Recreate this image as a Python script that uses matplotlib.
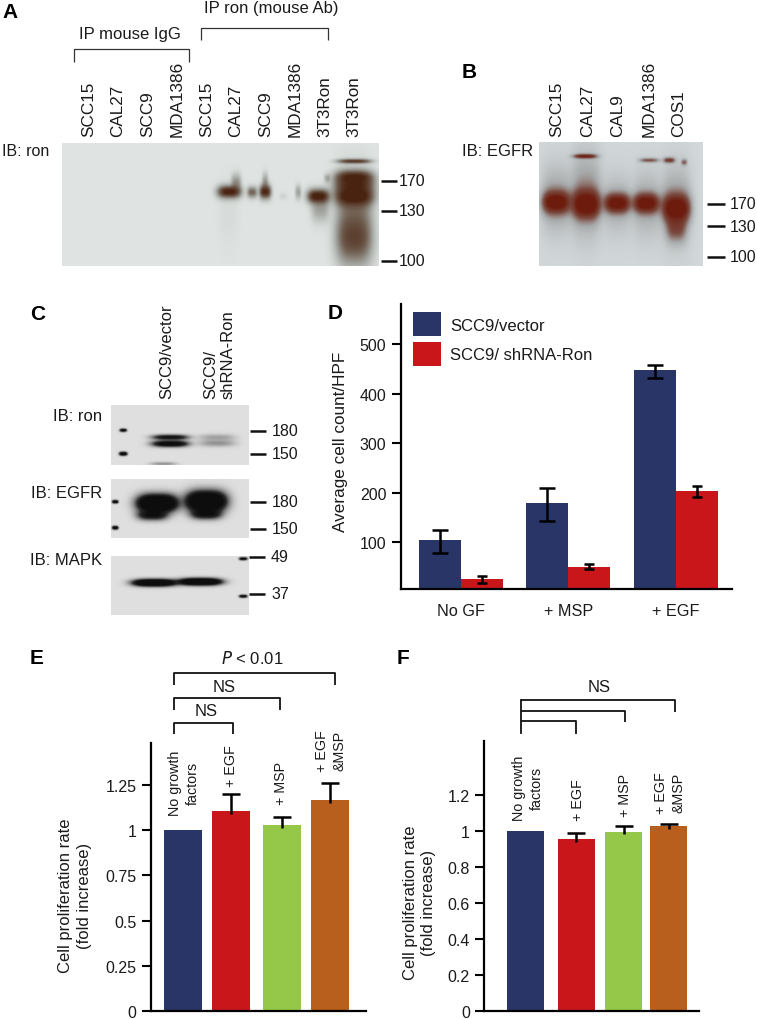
import numpy as np
import matplotlib
matplotlib.use('Agg')
import matplotlib.pyplot as plt
from matplotlib.colors import LinearSegmentedColormap

plt.rcParams['font.family'] = ['Liberation Sans', 'DejaVu Sans']

W, H = 757, 1020

# panel D
D_GROUPS = ['No GF', '+ MSP', '+ EGF']
D_VECTOR = [103, 178, 448]
D_VECTOR_LOW = [77, 143, 432]
D_VECTOR_HIGH = [125, 209, 458]
D_SHRNA = [24, 50, 204]
D_SHRNA_LOW = [16, 45, 192]
D_SHRNA_HIGH = [32, 56, 213]
D_TICKS = [100, 200, 300, 400, 500]

# panels E, F
E_VALUES = [1.0, 1.105, 1.028, 1.166]
E_TOPS = [1.0, 1.2, 1.072, 1.264]
E_TICKS = [0, 0.25, 0.5, 0.75, 1, 1.25]
E_TICKLABELS = ['0', '0.25', '0.5', '0.75', '1', '1.25']
F_VALUES = [1.0, 0.954, 0.994, 1.024]
F_TOPS = [1.0, 0.99, 1.027, 1.039]
F_TICKS = [0, 0.2, 0.4, 0.6, 0.8, 1, 1.2]
F_TICKLABELS = ['0', '0.2', '0.4', '0.6', '0.8', '1', '1.2']
BAR_COLORS = ['#2a3567', '#c8161b', '#95c748', '#b85f1e']

# blots: (x centre, y centre, half width, y sigma, strength), in page pixels
A_BANDS = [
    (229, 192.5, 12, 4.5, 0.9), (236, 183, 5, 6, 0.35), (228, 215, 10, 22, 0.04),
    (252, 193, 5, 4, 0.55), (265, 192.5, 6, 5, 0.85), (265, 182, 3, 6, 0.3),
    (298, 193, 3, 5, 0.3), (283, 197, 4, 2.5, 0.08),
    (318, 197, 11, 5, 0.95), (320, 210, 9, 9, 0.3), (327, 179, 3, 3, 0.25),
    (354, 197, 19, 7, 1.0), (354, 178, 19, 5, 0.85), (354, 162, 17, 1.6, 0.75),
    (354, 186, 19, 6, 0.7), (354, 240, 18, 18, 0.6), (354, 215, 18, 28, 0.4),
]
B_BANDS = [
    (556, 203, 14, 8, 0.92), (586, 205, 14, 10, 1.0), (617, 204, 13, 7, 0.9),
    (646, 204, 13, 7, 0.9), (676, 209, 14, 10, 0.95), (676, 230, 10, 9, 0.45),
    (585, 157, 12, 1.6, 0.75), (649, 161, 10, 1.6, 0.5),
    (669, 161, 6, 2, 0.6), (684, 163, 3, 2.2, 0.45),
    (556, 200, 15, 24, 0.3), (586, 195, 15, 30, 0.35), (617, 205, 14, 22, 0.22),
    (646, 205, 14, 24, 0.25), (676, 205, 15, 28, 0.3),
]
C1_BANDS = [
    (170, 438, 18, 1.8, 0.65), (170, 444.5, 18, 2.2, 0.8),
    (217, 438, 18, 2.2, 0.16), (217, 444, 18, 2.4, 0.2),
    (163, 464.5, 13, 1.2, 0.2),
    (123, 431, 3.5, 1.1, 0.8), (123, 454.5, 4, 1.3, 0.9),
]
C2_BANDS = [
    (157, 504, 20, 6, 1.0), (206, 502, 20, 7, 1.0),
    (152, 516, 15, 3.5, 0.5), (206, 515, 15, 3.5, 0.5),
    (115, 502.5, 3, 1.1, 0.8), (115, 528.5, 3, 1.2, 0.8),
]
C3_BANDS = [
    (154, 583.5, 21, 2.4, 1.0), (200, 582.5, 21, 2.4, 1.0),
    (243, 559.5, 4, 1, 0.7), (243, 597, 4, 1, 0.7),
]

BROWN = LinearSegmentedColormap.from_list(
    'brown', ['#dfe4e2', '#a3a5a0', '#6d5a4c', '#4a2210'])
RED = LinearSegmentedColormap.from_list(
    'red', ['#d2d8da', '#a7a9aa', '#7a4a40', '#6d1c0e'])
GREY = LinearSegmentedColormap.from_list(
    'grey', ['#dfdfdf', '#8a8a8a', '#2a2a2a', '#0d0d0d'])

fig = plt.figure(figsize=(W / 100, H / 100), dpi=100)


def pixel_axes(x0, y0, x1, y1, **kw):
    return fig.add_axes([x0 / W, 1 - y1 / H, (x1 - x0) / W, (y1 - y0) / H], **kw)


page = pixel_axes(0, 0, W, H)
page.set_xlim(0, W)
page.set_ylim(H, 0)
page.axis('off')


def blot(x0, y0, x1, y1, bands, cmap, gain=1.0):
    xs, ys = np.meshgrid(np.arange(x0, x1, 0.5), np.arange(y0, y1, 0.5))
    keep = np.ones_like(xs)
    for cx, cy, hw, sy, amp in bands:
        keep *= 1 - amp * np.exp(-np.abs((xs - cx) / hw) ** 3 - ((ys - cy) / sy) ** 2 / 2)
    ax = pixel_axes(x0, y0, x1, y1)
    ax.imshow(np.clip((1 - keep) * gain, 0, 1), cmap=cmap, vmin=0, vmax=1, aspect='auto',
              extent=(x0, x1, y1, y0), interpolation='bilinear')
    ax.axis('off')


def label(x, y, s, **kw):
    kw.setdefault('fontsize', 11.5)
    kw.setdefault('va', 'center')
    kw.setdefault('color', '#1a1a1a')
    page.text(x, y, s, **kw)


def rotated(x, y, s, **kw):
    kw.setdefault('ha', 'center')
    kw.setdefault('va', 'bottom')
    label(x, y, s, rotation=90, **kw)


def bracket(x0, x1, top, drop0, drop1, lw=1.3, color='#111111'):
    page.plot([x0, x0, x1, x1], [drop0, top, top, drop1], color=color, lw=lw,
              solid_joinstyle='round', solid_capstyle='butt')


def marks(x0, x1, items, tx, lw=1.8):
    for y, s in items:
        page.plot([x0, x1], [y, y], color='#111111', lw=lw, solid_capstyle='butt')
        label(tx, y, s)


for x, y, s in [(2, 13, 'A'), (462, 72, 'B'), (30, 315, 'C'), (328, 314, 'D'),
                (30, 659, 'E'), (397, 659, 'F')]:
    label(x, y, s, fontsize=15, fontweight='bold', color='black')

# A
blot(62, 144, 379, 267, A_BANDS, BROWN, gain=1.15)
A_LANES = ['SCC15', 'CAL27', 'SCC9', 'MDA1386', 'SCC15', 'CAL27', 'SCC9', 'MDA1386', '3T3Ron', '3T3Ron']
A_X = [89, 118, 148, 177, 207, 236, 266, 295, 325, 354]
for x, s in zip(A_X, A_LANES):
    rotated(x, 137, s, fontsize=12.3)
bracket(73.5, 189, 50, 63, 63, lw=0.9, color='#333333')
bracket(200.5, 327.5, 28.5, 41, 41, lw=0.9, color='#333333')
label(130, 34, 'IP mouse IgG', ha='center', fontsize=12)
label(271, 9, 'IP ron (mouse Ab)', ha='center', fontsize=12)
label(2, 151, 'IB: ron')
marks(381, 396.5, [(181.5, '170'), (212, '130'), (261.5, '100')], 399)

# B
blot(539, 143, 703, 267, B_BANDS, RED, gain=1.25)
for x, s in zip([557, 588, 618, 649, 679], ['SCC15', 'CAL27', 'CAL9', 'MDA1386', 'COS1']):
    rotated(x, 137, s, fontsize=12.3)
label(462.5, 151, 'IB: EGFR', fontsize=12)
marks(706.5, 725, [(204.5, '170'), (227, '130'), (257.5, '100')], 730)

# C
blot(111, 406, 249, 466, C1_BANDS, GREY, gain=1.5)
blot(111, 480, 249, 539, C2_BANDS, GREY, gain=1.8)
blot(111, 557, 249, 616, C3_BANDS, GREY, gain=1.8)
rotated(167, 399.5, 'SCC9/vector', fontsize=12)
rotated(219, 399.5, 'SCC9/\nshRNA-Ron', multialignment='left', fontsize=12, linespacing=1.2)
label(102, 417, 'IB: ron', ha='right', fontsize=12)
label(102, 493.5, 'IB: EGFR', ha='right', fontsize=12)
label(102, 560.5, 'IB: MAPK', ha='right', fontsize=12)
marks(250, 265.5, [(431.5, '180'), (454.5, '150'), (503, '180'), (529.5, '150')], 272)
marks(249, 264.5, [(557.5, '49'), (595, '37')], 271)


def style_axis(ax):
    ax.patch.set_alpha(0)
    for side in ['top', 'right']:
        ax.spines[side].set_visible(False)
    for side in ['left', 'bottom']:
        ax.spines[side].set_linewidth(1.6)
    ax.tick_params(axis='y', length=6.3, width=1.5, pad=4, labelsize=11.5, labelcolor='#1a1a1a')


# D
ax = pixel_axes(400.7, 305, 732, 590)
style_axis(ax)
xpos = np.arange(len(D_GROUPS))
width = 0.39
vector = np.array(D_VECTOR)
shrna = np.array(D_SHRNA)
ax.bar(xpos - width / 2, vector, width, color=BAR_COLORS[0], label='SCC9/vector')
ax.bar(xpos + width / 2, shrna, width, color=BAR_COLORS[1], label='SCC9/ shRNA-Ron')
ax.errorbar(xpos - width / 2, vector,
            yerr=[vector - np.array(D_VECTOR_LOW), np.array(D_VECTOR_HIGH) - vector],
            fmt='none', ecolor='black', elinewidth=1.8, capsize=5.5, capthick=1.8)
ax.errorbar(xpos + width / 2, shrna,
            yerr=[shrna - np.array(D_SHRNA_LOW), np.array(D_SHRNA_HIGH) - shrna],
            fmt='none', ecolor='black', elinewidth=1.8, capsize=3.5, capthick=1.8)
ax.set_xlim(-0.558, 2.524)
ax.set_ylim(4.7, 582)
ax.set_xticks(xpos, D_GROUPS, fontsize=11.7, color='#1a1a1a')
ax.tick_params(axis='x', length=0, pad=10)
ax.set_yticks(D_TICKS)
ax.set_ylabel('Average cell count/HPF', fontsize=12.3, color='#1a1a1a')
ax.yaxis.set_label_coords(348, 441.5, transform=page.transData)
ax.legend(loc='upper left', bbox_to_anchor=(413.3, 313.3), bbox_transform=page.transData,
          frameon=False, fontsize=12, borderpad=0, borderaxespad=0, handlelength=1.65,
          handleheight=1.85, labelspacing=0.32, handletextpad=0.55, labelcolor='#1a1a1a')


def proliferation(box, values, tops, ticks, ticklabels, pos, bar_w, xlim, ytop, label_xy):
    ax = pixel_axes(*box)
    style_axis(ax)
    ax.bar(pos, values, bar_w, color=BAR_COLORS)
    tops = np.array(tops)
    vals = np.array(values)
    for p, v, t in zip(pos[1:], vals[1:], tops[1:]):
        _, caps, _ = ax.errorbar([p], [v], yerr=[[0.015], [t - v]], fmt='none', ecolor='black',
                                 elinewidth=1.8, capsize=6.3, capthick=1.8)
        caps[0].set_visible(False)
    ax.set_xlim(*xlim)
    ax.set_ylim(0, ytop)
    ax.set_xticks([])
    ax.set_yticks(ticks, ticklabels)
    ax.set_ylabel('Cell proliferation rate\n(fold increase)', fontsize=12, color='#1a1a1a',
                  linespacing=1.3)
    ax.yaxis.set_label_coords(*label_xy, transform=page.transData)


# E
proliferation((150.7, 744, 366, 1011.7), E_VALUES, E_TOPS, E_TICKS, E_TICKLABELS,
              [0, 1, 2.05, 3.05], 0.79, (-0.663, 3.80), 1.484, (91.5, 896))
bracket(174, 334.5, 674, 685.5, 685.5)
bracket(174, 280, 699, 711, 711)
bracket(174, 232.5, 723.5, 735, 735)
label(252, 659, r'$\mathit{P}$ < 0.01', ha='center', math_fontfamily='dejavusans', fontsize=12)
label(224, 688, 'NS', ha='center', fontsize=12)
label(206.5, 712, 'NS', ha='center', fontsize=12)
for x, y, s in [(184, 783, 'No growth\nfactors'), (231, 766, '+ EGF'),
                (281, 783, '+ MSP'), (331, 751, '+ EGF\n&MSP')]:
    rotated(x, y, s, va='center', fontsize=10.3, multialignment='center', linespacing=1.35)

# F
proliferation((484.3, 741.7, 699.3, 1011.7), F_VALUES, F_TOPS, F_TICKS, F_TICKLABELS,
              [0, 1.06, 2.05, 2.98], 0.77, (-0.85, 3.615), 1.5, (436.5, 903))
page.plot([521, 521], [701, 733.5], color='#111111', lw=1.3)
bracket(521, 674.5, 701, 701, 712.5)
bracket(521, 624.5, 711.5, 711.5, 723)
bracket(521, 575.5, 722, 722, 734.5)
label(599, 688, 'NS', ha='center', fontsize=12)
for x, y, s in [(527.5, 788, 'No growth\nfactors'), (578.5, 800.5, '+ EGF'),
                (625, 795.5, '+ MSP'), (670, 793, '+ EGF\n&MSP')]:
    rotated(x, y, s, va='center', fontsize=10.3, multialignment='center', linespacing=1.35)

fig.savefig('out.png', dpi=100)
